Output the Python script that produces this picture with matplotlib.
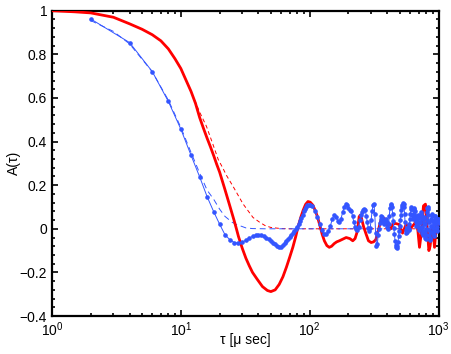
import numpy as np
import matplotlib
matplotlib.use("Agg")
import matplotlib.pyplot as plt
from matplotlib.ticker import FuncFormatter, AutoMinorLocator, LogLocator, NullFormatter

plt.rcParams['font.family'] = ['Liberation Sans', 'DejaVu Sans']

# measured autocorrelation (blue): every 2 us up to 100, then every 5 us
tau_blue = np.concatenate([np.arange(2, 100, 2), np.arange(100, 1001, 5)])
A_blue = [
    0.962, 0.854, 0.721, 0.584, 0.457, 0.337, 0.238, 0.147, 0.078, 0.021,
    -0.027, -0.050, -0.063, -0.066, -0.062, -0.052, -0.042, -0.035, -0.030, -0.028,
    -0.029, -0.033, -0.040, -0.048, -0.056, -0.064, -0.072, -0.080, -0.084, -0.082,
    -0.075, -0.066, -0.056, -0.046, -0.037, -0.029, -0.021, -0.012, -0.003, 0.008,
    0.020, 0.034, 0.050, 0.065, 0.080, 0.092, 0.101, 0.107, 0.110,
    # 100 .. 250
    0.110, 0.105, 0.083, 0.055, 0.022, -0.005, -0.022, -0.025, -0.010, 0.015,
    0.045, 0.065, 0.055, 0.038, 0.030, 0.045, 0.075, 0.100, 0.113, 0.110,
    0.095, 0.088, 0.080, 0.060, 0.030, 0.010, 0.000, -0.005, 0.010, 0.040,
    0.065,
    # 255 .. 1000
    0.075, 0.085, 0.090, 0.085, 0.060, 0.030, 0.005, -0.010, 0.005, 0.040,
    0.080, 0.110, 0.115, 0.070, -0.020, -0.080, -0.070, -0.030, 0.000, 0.025,
    0.045, 0.060, 0.055, 0.035, 0.020, 0.025, 0.040, 0.045, 0.030, 0.010,
    0.000, 0.020, 0.060, 0.095, 0.110, 0.113, 0.100, 0.070, 0.035, 0.005,
    -0.025, -0.055, -0.075, -0.085, -0.088, -0.080, -0.060, -0.035, -0.010, 0.015,
    0.040, 0.065, 0.085, 0.100, 0.110, 0.118, 0.115, 0.100, 0.070, 0.030,
    -0.005, -0.020, -0.015, 0.000, 0.010, 0.005, -0.005, 0.000, 0.020, 0.045,
    0.070, 0.090, 0.100, 0.090, 0.065, 0.045, 0.050, 0.070, 0.090, 0.095,
    0.080, 0.055, 0.030, 0.015, 0.020, 0.040, 0.060, 0.065, 0.050, 0.025,
    0.005, -0.005, 0.005, 0.030, 0.060, 0.075, 0.070, 0.045, 0.010, -0.020,
    -0.030, -0.010, 0.025, 0.055, 0.050, 0.020, -0.015, -0.040, -0.045, -0.030,
    0.000, 0.040, 0.075, 0.095, 0.100, 0.090, 0.065, 0.030, -0.005, -0.030,
    -0.045, -0.050, -0.040, -0.015, 0.015, 0.045, 0.065, 0.070, 0.060, 0.035,
    0.005, -0.020, -0.035, -0.030, -0.010, 0.020, 0.045, 0.060, 0.060, 0.045,
    0.025, 0.005, -0.010, -0.005, 0.010, 0.030, 0.045, 0.045, 0.035, 0.025,
]

# model curve (red, solid)
tau_red = [1, 1.5, 2, 3, 4, 5, 6, 7, 8, 9, 10, 11, 12, 13, 14, 15, 16, 17, 18, 19,
           20, 22, 24, 26, 27, 28, 30, 32, 34, 36, 39, 43, 47, 50, 54, 58, 62, 66, 70, 74,
           78, 81, 85, 89, 93, 97, 101, 106, 111, 115, 120, 125, 130, 136, 142, 148, 155, 162, 170, 180,
           192, 205, 216, 225, 232, 237, 242, 247, 252, 262, 274, 286, 300, 313, 326, 340, 356, 370, 385, 400,
           413, 426, 440, 460, 494, 526, 560, 614, 645, 671, 692, 712, 734, 764, 792, 812, 842, 860, 877, 904,
           931, 960, 980, 1000]
A_red = [1.0, 0.995, 0.99, 0.97, 0.94, 0.915, 0.89, 0.862, 0.825, 0.78, 0.735, 0.68, 0.63, 0.575, 0.51, 0.46, 0.415, 0.375, 0.335, 0.295,
         0.26, 0.18, 0.105, 0.035, 0.0, -0.035, -0.09, -0.135, -0.17, -0.2, -0.23, -0.265, -0.283, -0.288, -0.28, -0.255, -0.22, -0.176, -0.13, -0.085,
         -0.035, 0.006, 0.05, 0.085, 0.112, 0.125, 0.122, 0.108, 0.08, 0.055, 0.015, -0.025, -0.055, -0.077, -0.085, -0.08, -0.068, -0.06, -0.055, -0.048,
         -0.04, -0.045, -0.055, -0.045, -0.02, 0.01, 0.055, 0.063, 0.05, 0.01, -0.024, -0.055, -0.063, -0.06, -0.05, -0.01, 0.036, 0.05, 0.045, 0.02,
         0.0, 0.0, 0.02, 0.025, 0.02, -0.02, 0.02, 0.006, 0.02, 0.036, -0.01, -0.085, -0.024, 0.105, 0.113, 0.021, -0.1, -0.08, -0.04, 0.006,
         -0.085, 0.006, 0.03, 0.02]

# fits (dashed)
tau_fit_red = [1, 2, 3, 4, 5, 6, 7, 8, 9, 10, 11, 12, 13, 14, 15.8, 17.8, 19.5, 21.2, 22.6, 25.4,
               30.4, 36.3, 40.9, 45, 50, 60, 70, 1000]
A_fit_red = [1.0, 0.99, 0.97, 0.94, 0.915, 0.89, 0.862, 0.825, 0.78, 0.735, 0.68, 0.628, 0.58, 0.535, 0.47, 0.385, 0.318, 0.278, 0.245, 0.195,
             0.114, 0.052, 0.03, 0.015, 0.006, 0.001, 0.0, 0.0]
tau_fit_blue = [2, 3, 4, 6, 8, 10, 12, 14, 16, 18, 20, 22, 25, 27, 32, 36, 45, 1000]
A_fit_blue = [0.955, 0.905, 0.848, 0.72, 0.59, 0.465, 0.35, 0.255, 0.177, 0.135, 0.09, 0.057, 0.03, 0.02, 0.004, 0.001, 0.0, 0.0]

red = '#ff0000'
blue = '#3355ff'

fig = plt.figure(figsize=(4.51, 3.54), dpi=100)
ax = fig.add_axes([0.1153, 0.1073, 0.857, 0.8624])

ax.plot(tau_red, A_red, color=red, lw=2.0, zorder=3)
ax.plot(tau_fit_red, A_fit_red, color=red, lw=0.7, ls=(0, (4, 3)), zorder=2)
ax.plot(tau_blue, A_blue, color=blue, lw=0.7, marker='o', ms=2.3, mec=blue, mfc=blue, zorder=4)
ax.plot(tau_fit_blue, A_fit_blue, color=blue, lw=0.7, ls=(0, (6, 4)), zorder=2)

ax.set_xscale('log')
ax.set_xlim(1, 1000)
ax.set_ylim(-0.4, 1)
ax.set_yticks([-0.4, -0.2, 0, 0.2, 0.4, 0.6, 0.8, 1])
ax.yaxis.set_minor_locator(AutoMinorLocator(5))
ax.xaxis.set_minor_locator(LogLocator(base=10, subs=np.arange(2, 10)))
ax.xaxis.set_minor_formatter(NullFormatter())
ax.yaxis.set_major_formatter(FuncFormatter(lambda v, p: ('%g' % round(v, 2)).replace('-', '\u2212')))

ax.tick_params(which='both', direction='in', top=True, right=True, labelsize=10, width=1.2)
ax.tick_params(which='major', length=4)
ax.tick_params(which='minor', length=2.5)
for s in ax.spines.values():
    s.set_linewidth(1.6)

ax.set_xlabel('τ [μ sec]', fontsize=10)
ax.set_ylabel('A(τ)', fontsize=10)
ax.xaxis.set_label_coords(0.5, -0.055)
ax.yaxis.set_label_coords(-0.08, 0.5)

fig.savefig('out.png', dpi=100)
